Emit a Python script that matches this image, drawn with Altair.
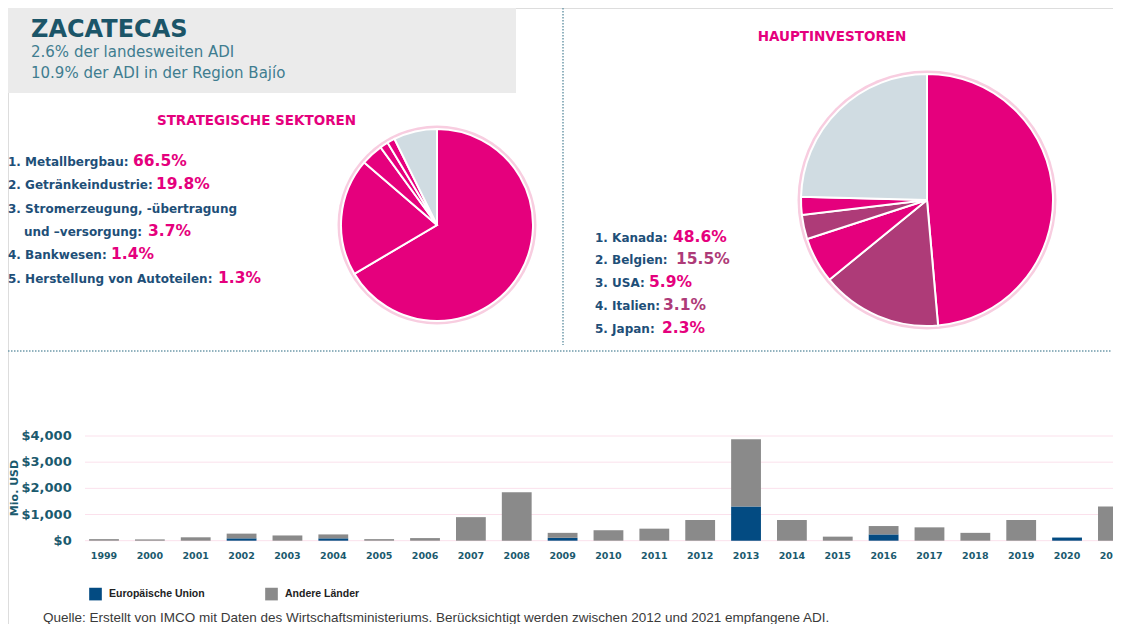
import math
import altair as alt
import pandas as pd

# ---------------- data ----------------
state_name = "ZACATECAS"
subtitle_lines = ["2.6% der landesweiten ADI", "10.9% der ADI in der Region Bajío"]

sectors_title = "STRATEGISCHE SEKTOREN"
sector_names = ["Metallbergbau", "Getränkeindustrie",
                "Stromerzeugung, -übertragung und –versorgung",
                "Bankwesen", "Herstellung von Autoteilen"]
sector_pct = [66.5, 19.8, 3.7, 1.4, 1.3]

investors_title = "HAUPTINVESTOREN"
investor_names = ["Kanada", "Belgien", "USA", "Italien", "Japan"]
investor_pct = [48.6, 15.5, 5.9, 3.1, 2.3]

rest_label = "Übrige"

years = list(range(1999, 2022))
#            1999 2000 2001 2002 2003 2004 2005 2006 2007 2008 2009 2010 2011 2012 2013  2014 2015 2016 2017 2018 2019 2020 2021
eu_values = [0,   0,   0,   90,  0,   90,  0,   0,   0,   0,   110, 0,   0,   0,   1310, 0,   0,   240, 0,   0,   0,   120, 0]
other_values = [60, 50, 130, 180, 200, 150, 60, 100, 900, 1850, 190, 400, 460, 790,
                2570, 790, 155, 320, 510, 300, 790, 0, 1310]
y_ticks = [0, 1000, 2000, 3000, 4000]
y_title = "Mio. USD"
group_names = ["Europäische Union", "Andere Länder"]
source_text = ("Quelle: Erstellt von IMCO mit Daten des Wirtschaftsministeriums. "
               "Berücksichtigt werden zwischen 2012 und 2021 empfangene ADI.")

# ---------------- styles ----------------
PINK = "#E5007D"
MAUVE = "#AE3B78"
PALE = "#D0DCE2"
RING = "#F8CDE0"
TEAL = "#1B5568"
TEAL_LIGHT = "#3F7D90"
NAVY = "#1E4F78"
AXIS_TEAL = "#1B5A6E"
BAR_GREY = "#8A8A8A"
BAR_BLUE = "#034B82"
GRID = "#FBE1EC"
DOT = "#6F9AAA"
FONT = "DejaVu Sans"

W, H = 1105, 616
one = pd.DataFrame({"k": [0]})


def text_layer(value, x, y, size, color, weight="normal", align="left",
               baseline="alphabetic", font=FONT, angle=None):
    df = pd.DataFrame({"t": [value]})
    kw = dict(align=align, baseline=baseline, font=font, fontSize=size,
              fontWeight=weight, color=color)
    if angle is not None:
        kw["angle"] = angle
    return alt.Chart(df).mark_text(**kw).encode(
        x=alt.value(x), y=alt.value(y), text=alt.Text("t:N"))


layers = []

# header box
layers.append(alt.Chart(one).mark_rect(color="#EBEBEB").encode(
    x=alt.value(0), x2=alt.value(508), y=alt.value(0), y2=alt.value(85)))
layers.append(text_layer(state_name, 23, 28.5, 24, TEAL, weight="bold"))
layers.append(text_layer(subtitle_lines[0], 23, 49, 15, TEAL_LIGHT))
layers.append(text_layer(subtitle_lines[1], 23, 70, 15, TEAL_LIGHT))

# dotted separators
layers.append(alt.Chart(one).mark_rule(color=DOT, strokeWidth=1.5, strokeDash=[1.5, 1.5]).encode(
    x=alt.value(555), y=alt.value(0), y2=alt.value(337)))
layers.append(alt.Chart(one).mark_rule(color=DOT, strokeWidth=1.5, strokeDash=[1.5, 1.5]).encode(
    x=alt.value(0), x2=alt.value(1104), y=alt.value(343)))

# section titles
layers.append(text_layer(sectors_title, 248.5, 117, 13.5, PINK, weight="bold", align="center"))
layers.append(text_layer(investors_title, 824, 33, 13.5, PINK, weight="bold", align="center"))

# sector list
sec_base = [157.7, 181, 228, 251, 275]
sec_pct_x = [125, 148, 140, 103, 210]
for i, (name, p) in enumerate(zip(sector_names, sector_pct)):
    if " und " in name:
        first, second = name.split(" und ")
        layers.append(text_layer(f"{i + 1}. {first}", 0, 205, 12, NAVY, weight="bold"))
        layers.append(text_layer(f"und {second}:", 16, sec_base[i], 12, NAVY, weight="bold"))
    else:
        layers.append(text_layer(f"{i + 1}. {name}:", 0, sec_base[i], 12, NAVY, weight="bold"))
    layers.append(text_layer(f"{p:.1f}%", sec_pct_x[i], sec_base[i], 15.5, PINK, weight="bold"))

# investor list
inv_base = [234, 256, 279, 302, 325]
inv_pct_x = [665, 668, 641, 655, 654]
inv_pct_col = [PINK, MAUVE, PINK, MAUVE, PINK]
for i, (name, p) in enumerate(zip(investor_names, investor_pct)):
    layers.append(text_layer(f"{i + 1}. {name}:", 587, inv_base[i], 12, NAVY, weight="bold"))
    layers.append(text_layer(f"{p:.1f}%", inv_pct_x[i], inv_base[i], 15.5, inv_pct_col[i], weight="bold"))


# pies
def pie(names, pcts, colors, cx, cy, r):
    cats = names + [rest_label]
    vals = pcts + [round(100 - sum(pcts), 1)]
    df = pd.DataFrame({"cat": cats, "pct": vals, "ord": list(range(len(cats)))})
    ring = alt.Chart(one).mark_arc(radius=r + 3.5, theta=0, theta2=2 * math.pi, color=RING).encode(
        x=alt.value(cx), y=alt.value(cy))
    slices = alt.Chart(df).mark_arc(radius=r, stroke="white", strokeWidth=2).encode(
        theta=alt.Theta("pct:Q", stack=True),
        order=alt.Order("ord:Q"),
        color=alt.Color("cat:N", scale=alt.Scale(domain=cats, range=colors + [PALE]), legend=None),
        x=alt.value(cx), y=alt.value(cy))
    return [ring, slices]


layers += pie(sector_names, sector_pct, [PINK] * 5, 429, 217, 96)
layers += pie(investor_names, investor_pct, [PINK, MAUVE, PINK, MAUVE, PINK], 919, 192, 126)

# bar chart
x_lo = 73.07
step = 45.86
xscale = alt.Scale(type="band", domain=years, range=[x_lo, x_lo + step * len(years)],
                   paddingInner=0.35, paddingOuter=0.175)
yscale = alt.Scale(domain=[0, 4000], range=[532.7, 428], nice=False, zero=True)

grid_df = pd.DataFrame({"v": y_ticks})
layers.append(alt.Chart(grid_df).mark_rule(color=GRID, strokeWidth=1).encode(
    y=alt.Y("v:Q", scale=yscale, axis=None), x=alt.value(77), x2=alt.value(1105)))
layers.append(alt.Chart(grid_df).mark_text(align="right", baseline="middle", font=FONT,
                                           fontSize=13, fontWeight="bold", color=AXIS_TEAL).encode(
    y=alt.Y("v:Q", scale=yscale, axis=None), x=alt.value(63.7),
    text=alt.Text("v:Q", format="$,")))
layers.append(text_layer(y_title, 10, 480, 11, AXIS_TEAL, weight="bold", align="center", angle=270))

bar_df = pd.DataFrame({
    "year": years * 2,
    "group": [group_names[0]] * len(years) + [group_names[1]] * len(years),
    "value": eu_values + other_values,
    "ord": [0] * len(years) + [1] * len(years),
})
layers.append(alt.Chart(bar_df).mark_bar().encode(
    x=alt.X("year:O", scale=xscale, axis=None),
    y=alt.Y("value:Q", stack="zero", scale=yscale, axis=None),
    order=alt.Order("ord:Q"),
    color=alt.Color("group:N", scale=alt.Scale(domain=group_names, range=[BAR_BLUE, BAR_GREY]),
                    legend=alt.Legend(orient="none", legendX=81, legendY=579.5,
                                      direction="horizontal", title=None, symbolType="square",
                                      symbolSize=160, symbolStrokeWidth=0, labelFont="Liberation Sans",
                                      labelFontWeight="bold", labelFontSize=10.5, labelColor="#222222",
                                      labelOffset=7, columnPadding=60, padding=0)),
))
layers.append(alt.Chart(pd.DataFrame({"year": years})).mark_text(
    baseline="middle", font=FONT, fontSize=9.5, fontWeight="bold", color=AXIS_TEAL).encode(
    x=alt.X("year:O", scale=xscale, axis=None), y=alt.value(547.7), text=alt.Text("year:N")))

layers.append(text_layer(source_text, 35, 614, 13.5, "#3A3A3A", font="Liberation Sans"))

chart = alt.layer(*layers).resolve_scale(
    color="independent", theta="independent"
).properties(
    width=W, height=H, padding=0, autosize=alt.AutoSizeParams(type="none")
).configure_view(stroke=None).configure(background="white")

chart.save("out.html", embed_options={"renderer": "svg", "actions": False})
